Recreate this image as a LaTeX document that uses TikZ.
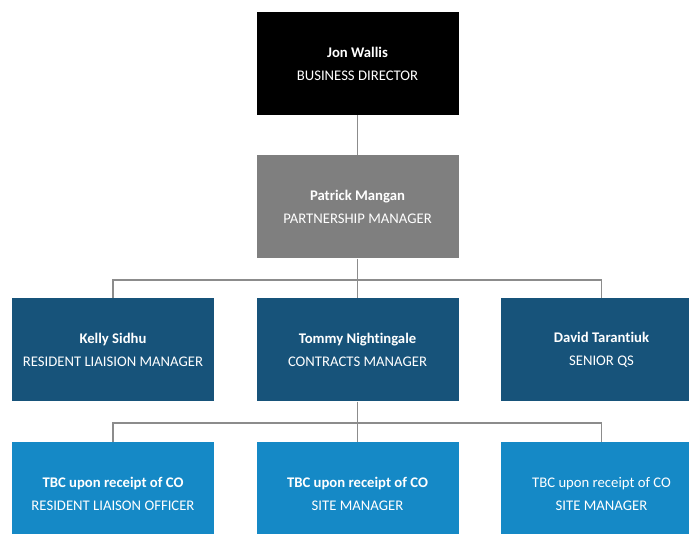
\documentclass[tikz,border=0pt]{standalone}
\usepackage{fontspec}
\setmainfont[Ligatures={NoCommon}]{Carlito}
\definecolor{dirblack}{HTML}{000000}
\definecolor{mgrgray}{HTML}{7F7F7F}
\definecolor{darkblue}{HTML}{17537A}
\definecolor{lightblue}{HTML}{1589C6}
\definecolor{linegray}{HTML}{8C8C8C}
\begin{document}
\begin{tikzpicture}[x=1pt,y=-1pt,
  box/.style={rectangle, minimum width=202pt, minimum height=103pt, inner sep=0pt,
    text=white, align=center, font=\fontsize{14.7}{23}\selectfont},
  conn/.style={draw=linegray, line width=1.5pt}]
\useasboundingbox (0,0) rectangle (689,534);
\node[box, fill=dirblack] (jon) at (357.5,63.5) {\textbf{Jon Wallis}\\BUSINESS DIRECTOR};
\node[box, fill=mgrgray] (pat) at (357.5,207) {\textbf{Patrick Mangan}\\PARTNERSHIP MANAGER};
\node[box, fill=darkblue] (kelly) at (113,350) {\textbf{Kelly Sidhu}\\RESIDENT LIAISION MANAGER};
\node[box, fill=darkblue] (tommy) at (357.5,350) {\textbf{Tommy Nightingale}\\CONTRACTS MANAGER};
\node[box, fill=darkblue] (david) at (601.5,350) {\textbf{David Tarantiuk}\\SENIOR QS};
\node[box, fill=lightblue] (rlo) at (113,493.5) {\textbf{TBC upon receipt of CO}\\RESIDENT LIAISON OFFICER};
\node[box, fill=lightblue] (sm1) at (357.5,493.5) {\textbf{TBC upon receipt of CO}\\SITE MANAGER};
\node[box, fill=lightblue] (sm2) at (601.5,493.5) {TBC upon receipt of CO\\SITE MANAGER};
\coordinate (b1) at (357.5,280);
\coordinate (b2) at (357.5,423);
\draw[conn] (jon.south) -- (pat.north);
\draw[conn] (pat.south) -- (b1);
\draw[conn] (b1) -| (kelly.north);
\draw[conn] (b1) -| (david.north);
\draw[conn] (b1) -- (tommy.north);
\draw[conn] (tommy.south) -- (b2);
\draw[conn] (b2) -| (rlo.north);
\draw[conn] (b2) -| (sm2.north);
\draw[conn] (b2) -- (sm1.north);
\end{tikzpicture}
\end{document}
